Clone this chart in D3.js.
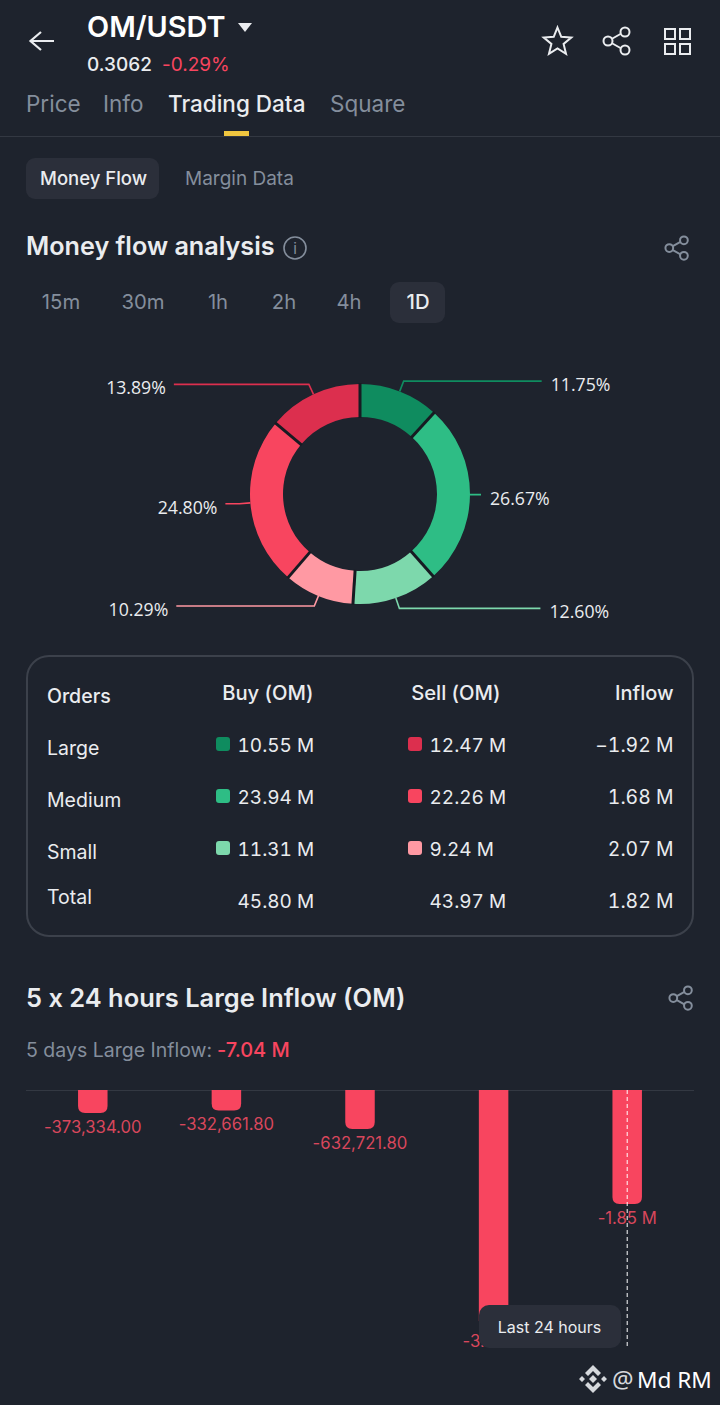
<!DOCTYPE html>
<html>
<head>
<meta charset="utf-8">
<script src="https://cdn.jsdelivr.net/npm/d3@7"></script>
<style>
html, body { margin: 0; padding: 0; background: #1e232d; }
svg { display: block; }
text { font-family: Inter, "Noto Sans", sans-serif; font-feature-settings: "calt" 0; }
</style>
</head>
<body>
<svg id="page" width="720" height="1405"></svg>
<script>
// money flow donut
var sliceNames = ["Large buy", "Medium buy", "Small buy", "Small sell", "Medium sell", "Large sell"]
var sliceShares = [11.75, 26.67, 12.60, 10.29, 24.80, 13.89]
var sliceColors = ["#0f8c5f", "#2ebd85", "#7dd8ac", "#ff99a3", "#f8455f", "#dc2f4e"]
var leaderRuns = [138, 0, 141, 138, 14, 135]

// orders table
var orderRows = ["Large", "Medium", "Small", "Total"]
var buyValues = ["10.55 M", "23.94 M", "11.31 M", "45.80 M"]
var sellValues = ["12.47 M", "22.26 M", "9.24 M", "43.97 M"]
var inflowValues = ["\u22121.92 M", "1.68 M", "2.07 M", "1.82 M"]
var buySwatches = ["#0f8c5f", "#2ebd85", "#7dd8ac"]
var sellSwatches = ["#dc2f4e", "#f8455f", "#ff99a3"]

// 5 x 24 hours bars
var inflowDays = ["d5", "d4", "d3", "d2", "d1"]
var inflowBars = [-373334.00, -332661.80, -632721.80, -3850000, -1850000]
var inflowLabels = ["-373,334.00", "-332,661.80", "-632,721.80", "-3.85 M", "-1.85 M"]

var tabs = ["Price", "Info", "Trading Data", "Square"]
var tabX = [26, 103, 168, 330]
var ranges = ["15m", "30m", "1h", "2h", "4h", "1D"]
var rangeX = [61, 143, 218, 284, 349, 418]

var svg = d3.select("#page")
var white = "#eaecef", grey = "#848e9c", red = "#f8455f"

label = function(parent, x, y, str, size, fill, props) {
  props = props || {}
  return parent.append("text")
    .attr("x", x).attr("y", y)
    .attr("font-size", size)
    .attr("fill", fill)
    .attr("font-weight", props.weight || 400)
    .attr("text-anchor", props.anchor || "start")
    .style("font-family", props.family || null)
    .style("font-variant-numeric", props.numeric || null)
    .text(str)
}

shareIcon = function(x, y, s, color) {
  var g = svg.append("g").attr("transform", "translate(" + x + "," + y + ") scale(" + s + ")")
    .attr("fill", "none").attr("stroke", color).attr("stroke-width", 2 / s)
  g.append("path").attr("d", "M5 14 L21 5 M5 14 L21 23")
  g.append("circle").attr("cx", 5).attr("cy", 14).attr("r", 4.5).attr("fill", "#1e232d")
  g.append("circle").attr("cx", 22).attr("cy", 5).attr("r", 4.5).attr("fill", "#1e232d")
  g.append("circle").attr("cx", 22).attr("cy", 23).attr("r", 4.5).attr("fill", "#1e232d")
}

// header
svg.append("path").attr("d", "M54 41 H31 M41 32 L30.5 41 L41 50")
  .attr("fill", "none").attr("stroke", white).attr("stroke-width", 2.2)
label(svg, 87, 37, "OM/USDT", 28.8, "#ffffff", {weight: 600})
svg.append("path").attr("d", "M238 23 H252 L245 32 Z").attr("fill", white)
label(svg, 87, 71, "0.3062", 19, white, {weight: 500})
label(svg, 162, 71, "-0.29%", 19, red, {weight: 400})

var star = d3.range(10).map(function(i) {
  var r = i % 2 ? 6.4 : 14.5, a = i * Math.PI / 5
  return [557.5 + r * Math.sin(a), 42 - r * Math.cos(a)]
})
svg.append("path").attr("d", d3.line()(star) + "Z").attr("fill", "none").attr("stroke", white).attr("stroke-width", 2)
shareIcon(603, 27, 1, white)
d3.range(4).forEach(function(i) {
  svg.append("rect").attr("x", 665 + (i % 2) * 15).attr("y", 29 + (i > 1 ? 15 : 0))
    .attr("width", 10).attr("height", 10).attr("fill", "none").attr("stroke", white).attr("stroke-width", 2)
})

// tabs
tabs.forEach(function(t, i) {
  label(svg, tabX[i], 112, t, 22.5, i == 2 ? white : grey, {weight: i == 2 ? 500 : 400})
})
svg.append("rect").attr("x", 224).attr("y", 131).attr("width", 25).attr("height", 6).attr("fill", "#f0c63f")
svg.append("line").attr("x1", 0).attr("x2", 720).attr("y1", 136.5).attr("y2", 136.5).attr("stroke", "#333842")

svg.append("rect").attr("x", 26).attr("y", 158).attr("width", 133).attr("height", 41).attr("rx", 9).attr("fill", "#2b2f3a")
label(svg, 40, 185, "Money Flow", 18.5, white, {weight: 500})
label(svg, 185, 185, "Margin Data", 19, grey)

label(svg, 26, 255, "Money flow analysis", 25.2, white, {weight: 600})
svg.append("circle").attr("cx", 295).attr("cy", 248).attr("r", 11).attr("fill", "none").attr("stroke", grey).attr("stroke-width", 1.6)
label(svg, 295, 254, "i", 15, grey, {anchor: "middle"})
shareIcon(665, 236, 0.86, grey)

svg.append("rect").attr("x", 390).attr("y", 282).attr("width", 55).attr("height", 41).attr("rx", 9).attr("fill", "#2b2f3a")
ranges.forEach(function(r, i) {
  label(svg, rangeX[i], 309, r, 20.3, i == 5 ? white : grey, {anchor: "middle", weight: i == 5 ? 500 : 400})
})

// donut
var cx = 360, cy = 494
var donut = svg.append("g").attr("transform", "translate(" + cx + "," + cy + ")")
var pie = d3.pie().sort(null).value(function(d) { return d })
var arcs = pie(sliceShares)
var arc = d3.arc().innerRadius(77).outerRadius(110)
var edge = d3.arc().innerRadius(110).outerRadius(110)
var elbow = d3.arc().innerRadius(121).outerRadius(121)

donut.selectAll("path.slice").data(arcs).enter().append("path")
  .attr("class", "slice")
  .attr("d", arc)
  .attr("fill", function(d, i) { return sliceColors[i] })

// dark separators between slices
donut.selectAll("line.sep").data(arcs).enter().append("line")
  .attr("class", "sep")
  .attr("x1", function(d) { return 76 * Math.sin(d.startAngle) })
  .attr("y1", function(d) { return -76 * Math.cos(d.startAngle) })
  .attr("x2", function(d) { return 111 * Math.sin(d.startAngle) })
  .attr("y2", function(d) { return -111 * Math.cos(d.startAngle) })
  .attr("stroke", "#171b22").attr("stroke-width", 3)

arcs.forEach(function(d, i) {
  var a = edge.centroid(d), b = elbow.centroid(d)
  var dir = b[0] > 0 ? 1 : -1
  var endX = b[0] + dir * leaderRuns[i]
  donut.append("path")
    .attr("d", d3.line()([a, b, [endX, b[1]]]))
    .attr("fill", "none").attr("stroke", sliceColors[i]).attr("stroke-width", 1.6)
  label(donut, endX + dir * (dir > 0 ? 9 : 8), b[1] + 10, d.data.toFixed(2) + "%", 17.7, white,
    {anchor: dir > 0 ? "start" : "end", family: "'Open Sans'"})
})

// table
svg.append("rect").attr("x", 27).attr("y", 656).attr("width", 666).attr("height", 280).attr("rx", 22)
  .attr("fill", "none").attr("stroke", "#3c414b").attr("stroke-width", 2)
label(svg, 47, 703, "Orders", 19.5, white, {weight: 500})
label(svg, 313.5, 700, "Buy (OM)", 20.2, white, {anchor: "end", weight: 500})
label(svg, 500.5, 700, "Sell (OM)", 20.2, white, {anchor: "end", weight: 500})
label(svg, 673.5, 700, "Inflow", 20, white, {anchor: "end", weight: 500})

var rowName = d3.scalePoint().domain(orderRows.slice(0, 3)).range([755, 859])
var rowVal = d3.scalePoint().domain(orderRows.slice(0, 3)).range([752, 856])
var tab = {numeric: "tabular-nums"}
var tabEnd = {anchor: "end", numeric: "tabular-nums"}
orderRows.forEach(function(r, i) {
  var ny = i < 3 ? rowName(r) : 904, vy = i < 3 ? rowVal(r) : 908
  label(svg, 47, ny, r, 19.5, white)
  label(svg, 237.5, vy, buyValues[i], 19, white, tab)
  label(svg, 429.5, vy, sellValues[i], 19, white, tab)
  label(svg, 673.5, vy, inflowValues[i], 19.4, white, tabEnd)
  if (i < 3) {
    svg.append("rect").attr("x", 216).attr("y", vy - 15).attr("width", 14).attr("height", 14).attr("rx", 3).attr("fill", buySwatches[i])
    svg.append("rect").attr("x", 408).attr("y", vy - 15).attr("width", 14).attr("height", 14).attr("rx", 3).attr("fill", sellSwatches[i])
  }
})

// large inflow section
label(svg, 26, 1007, "5 x 24 hours Large Inflow (OM)", 25.45, white, {weight: 600})
shareIcon(669, 986, 0.86, grey)
label(svg, 26, 1057, "5 days Large Inflow: ", 19.5, grey)
label(svg, 217, 1057, "-7.04 M", 20, red, {weight: 500})

var x = d3.scaleBand().domain(inflowDays).range([26, 694])
var y = d3.scaleLinear().domain([0, -4000000]).range([1090, 1336.4])
var barW = 29.5

svg.append("line").attr("x1", 26).attr("x2", 694).attr("y1", 1090.5).attr("y2", 1090.5).attr("stroke", "#333842")

barPath = function(d, i) {
  var x0 = x(inflowDays[i]) + x.bandwidth() / 2 - barW / 2, x1 = x0 + barW, b = y(d), r = 7
  return "M" + x0 + " " + y(0) + " H" + x1 + " V" + (b - r) +
    " Q" + x1 + " " + b + " " + (x1 - r) + " " + b + " H" + (x0 + r) +
    " Q" + x0 + " " + b + " " + x0 + " " + (b - r) + " Z"
}
svg.selectAll("path.bar").data(inflowBars).enter().append("path")
  .attr("class", "bar").attr("d", barPath).attr("fill", red)

svg.selectAll("text.barval").data(inflowBars).enter().append("text")
  .attr("class", "barval")
  .attr("x", function(d, i) { return x(inflowDays[i]) + x.bandwidth() / 2 })
  .attr("y", function(d) { return y(d) + 20 })
  .attr("text-anchor", "middle")
  .attr("font-size", 16.7)
  .attr("fill", "#d8475c")
  .text(function(d, i) { return inflowLabels[i] })

// crosshair on latest bar and tooltip on top
var lastX = x(inflowDays[4]) + x.bandwidth() / 2
svg.append("line").attr("x1", lastX).attr("x2", lastX).attr("y1", 1090).attr("y2", 1348)
  .attr("stroke", "#ffffff").attr("stroke-width", 1).attr("stroke-dasharray", "4 3")
svg.append("rect").attr("x", 479).attr("y", 1305).attr("width", 142).attr("height", 43).attr("rx", 10).attr("fill", "#2b2f3a")
label(svg, 549.5, 1333, "Last 24 hours", 16, white, {anchor: "middle"})

// watermark
var logo = svg.append("g").attr("transform", "translate(593,1379)").attr("fill", "#d5d8dc")
logo.append("path").attr("d", "M0 -14 L8 -6 L5 -3 L0 -8 L-5 -3 L-8 -6 Z")
logo.append("path").attr("d", "M0 14 L8 6 L5 3 L0 8 L-5 3 L-8 6 Z")
logo.append("path").attr("d", "M-14 0 L-11 -3 L-8 0 L-11 3 Z M14 0 L11 -3 L8 0 L11 3 Z M0 -4 L4 0 L0 4 L-4 0 Z")
label(svg, 612, 1388, "@", 24, "#d5d8dc", {family: "'Noto Sans'"})
label(svg, 637, 1388, "Md RM", 22.6, "#ffffff", {family: "'Noto Sans'"})
</script>
</body>
</html>
